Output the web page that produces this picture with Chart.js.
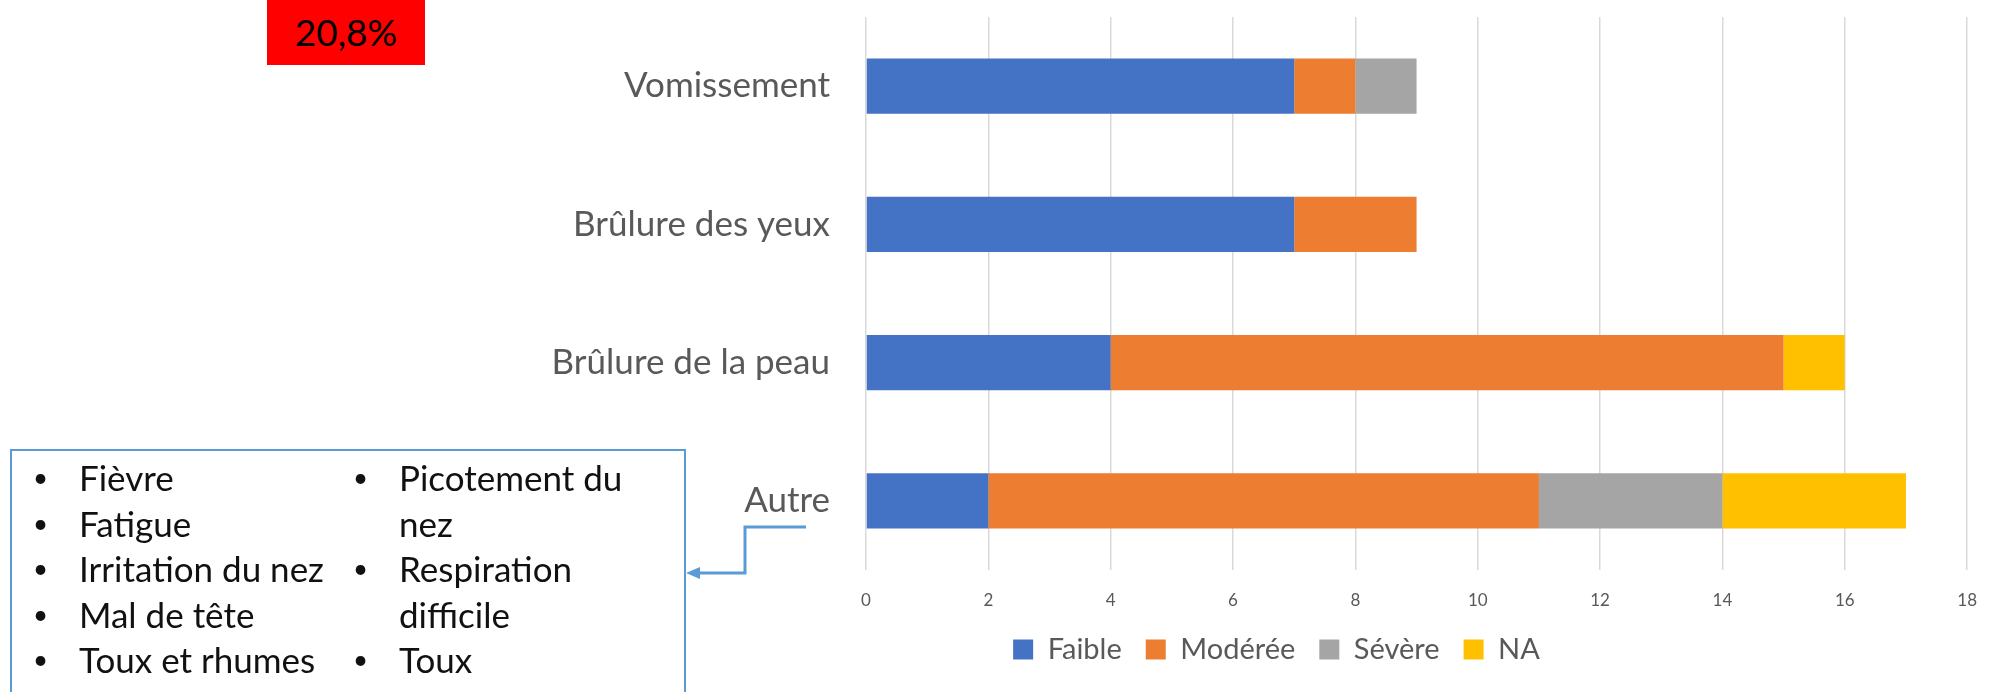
<!DOCTYPE html>
<html>
<head>
<meta charset="utf-8">
<script src="https://cdn.jsdelivr.net/npm/chart.js@4"></script>
<style>
  body { margin: 0; width: 1997px; height: 692px; background: #fff; position: relative; overflow: hidden; font-family: Lato, sans-serif; }
  #wrap { position: absolute; left: 480px; top: 0; width: 1517px; height: 692px; }
  .badge { position: absolute; left: 267px; top: 0; width: 158px; height: 65px; background: #ff0000; color: #000; font-size: 37px; line-height: 64px; text-align: center; }
  .liste { position: absolute; left: 10px; top: 449px; width: 672px; height: 260px; border: 2px solid #5b9bd5; }
  .col { position: absolute; top: 4px; margin: 0; padding: 0; list-style: none; font-size: 35px; line-height: 45.5px; color: #111; }
  .col li { position: relative; padding-left: 48px; }
  .col li.bullet::before { content: "\2022"; position: absolute; left: 2px; font-size: 26px; }
</style>
</head>
<body>
<div id="wrap"><canvas id="myChart"></canvas></div>
<div class="badge">20,8%</div>
<div class="liste">
  <ul class="col" style="left:19px">
    <li class="bullet">Fièvre</li>
    <li class="bullet">Fatigue</li>
    <li class="bullet">Irritation du nez</li>
    <li class="bullet">Mal de tête</li>
    <li class="bullet">Toux et rhumes</li>
  </ul>
  <ul class="col" style="left:339px">
    <li class="bullet">Picotement du</li>
    <li>nez</li>
    <li class="bullet">Respiration</li>
    <li>difficile</li>
    <li class="bullet">Toux</li>
  </ul>
</div>
<script>
const symptomes = ['Vomissement', 'Brûlure des yeux', 'Brûlure de la peau', 'Autre'];
const faible = [7, 7, 4, 2];
const moderee = [1, 2, 11, 9];
const severe = [1, 0, 0, 3];
const na = [0, 0, 1, 3];

// flèche qui relie "Autre" à la liste
const fleche = {
    id: 'fleche',
    afterDraw(chart) {
        const ctx = chart.ctx;
        const y = chart.scales.y.getPixelForValue(3) + 26;
        const left = chart.chartArea.left;
        ctx.save();
        ctx.strokeStyle = '#5b9bd5';
        ctx.fillStyle = '#5b9bd5';
        ctx.lineWidth = 3;
        ctx.beginPath();
        ctx.moveTo(left - 60, y);
        ctx.lineTo(left - 121, y);
        ctx.lineTo(left - 121, y + 46);
        ctx.lineTo(left - 170, y + 46);
        ctx.stroke();
        ctx.beginPath();
        ctx.moveTo(left - 180, y + 46);
        ctx.lineTo(left - 166, y + 40);
        ctx.lineTo(left - 166, y + 52);
        ctx.closePath();
        ctx.fill();
        ctx.restore();
    }
};

// légende centrée sur tout le graphique (catégories comprises)
const decalageLegende = {
    id: 'decalageLegende',
    afterLayout(chart) {
        chart.legend.left += 35;
        chart.legend.right += 35;
    }
};

const ctx = document.getElementById('myChart').getContext('2d');
const myChart = new Chart(ctx, {
    type: 'bar',
    data: {
        labels: symptomes,
        datasets: [
            { label: 'Faible', data: faible, backgroundColor: '#4472c4' },
            { label: 'Modérée', data: moderee, backgroundColor: '#ed7d31' },
            { label: 'Sévère', data: severe, backgroundColor: '#a5a5a5' },
            { label: 'NA', data: na, backgroundColor: '#ffc000' }
        ]
    },
    options: {
        indexAxis: 'y',
        responsive: true,
        maintainAspectRatio: false,
        animation: false,
        datasets: {
            bar: { categoryPercentage: 1, barPercentage: 0.4 }
        },
        layout: {
            padding: { left: 30, right: 24, top: 17, bottom: 18 }
        },
        plugins: {
            tooltip: { enabled: false },
            legend: {
                display: true,
                position: 'bottom',
                labels: {
                    boxWidth: 20,
                    boxHeight: 20,
                    padding: 24,
                    color: '#595959',
                    font: { family: 'Lato', size: 29 }
                }
            }
        },
        scales: {
            x: {
                stacked: true,
                min: 0,
                max: 18,
                afterFit(scale) { scale.height = 41; },
                ticks: {
                    stepSize: 2,
                    padding: 20,
                    color: '#595959',
                    font: { family: 'Lato', size: 17 }
                },
                grid: { color: '#d9d9d9', lineWidth: 1.5, drawTicks: false },
                border: { display: false }
            },
            y: {
                stacked: true,
                afterFit(scale) {
                    scale.width = 356;
                    scale.paddingTop = 0;
                    scale.paddingBottom = 0;
                },
                ticks: {
                    padding: 36,
                    color: '#595959',
                    font: { family: 'Lato', size: 35 }
                },
                grid: { display: false, drawTicks: false },
                border: { display: false }
            }
        }
    },
    plugins: [fleche, decalageLegende]
});
</script>
</body>
</html>
